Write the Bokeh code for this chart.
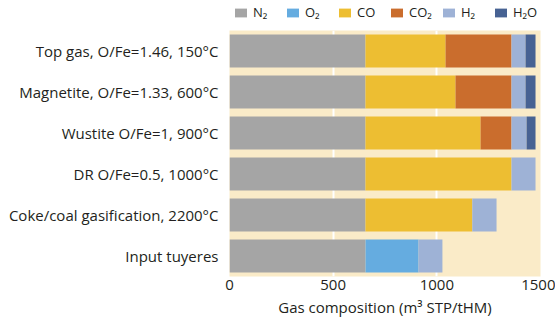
from bokeh.plotting import figure
from bokeh.layouts import column
from bokeh.models import ColumnDataSource, Legend, LegendItem, FixedTicker, Range1d, FactorRange
from bokeh.embed import file_html
from bokeh.resources import INLINE

cases = ["Top gas, O/Fe=1.46, 150°C", "Magnetite, O/Fe=1.33, 600°C", "Wustite O/Fe=1, 900°C",
         "DR O/Fe=0.5, 1000°C", "Coke/coal gasification, 2200°C", "Input tuyeres"]
N2 = [656, 656, 656, 656, 656, 656]
O2 = [0, 0, 0, 0, 0, 256]
CO = [386, 434, 555, 704, 515, 0]
CO2 = [318, 270, 149, 0, 0, 0]
H2 = [68, 68, 73, 116, 117, 115]
H2O = [48, 48, 43, 0, 0, 0]
species = ["N2", "O2", "CO", "CO2", "H2", "H2O"]
labels = ["N₂", "O₂", "CO", "CO₂", "H₂", "H₂O"]
colors = ["#A5A5A5", "#65ACE0", "#EDBE32", "#CA6D2D", "#9EB2D6", "#476293"]
xticks = [0, 500, 1000, 1500]

FONT = "Open Sans"
TXT = "#231F20"

src = ColumnDataSource(dict(case=cases, N2=N2, O2=O2, CO=CO, CO2=CO2, H2=H2, H2O=H2O))

# legend strip (its bars are hidden; only the legend shows)
lf = figure(width=555, height=30, output_backend="svg", toolbar_location=None,
            y_range=FactorRange(factors=list(reversed(cases)), range_padding=0),
            x_range=Range1d(0, 1500),
            min_border_left=229, min_border_right=15, min_border_top=0, min_border_bottom=0)
lf.axis.visible = False
lf.grid.visible = False
lf.outline_line_color = None
lrs = lf.hbar_stack(species, y="case", height=0.8, color=colors, source=src, line_color=None)
for r in lrs:
    r.visible = False
legend = Legend(items=[LegendItem(label=l, renderers=[r]) for l, r in zip(labels, lrs)],
                orientation="horizontal", location=(4, 9),
                glyph_width=15, glyph_height=11, label_standoff=5, label_width=32,
                spacing=0, padding=0, margin=0,
                label_text_font=FONT, label_text_font_size="13px", label_text_color=TXT,
                border_line_color=None, background_fill_alpha=0)
lf.add_layout(legend, "center")

p = figure(width=555, height=297, output_backend="svg", toolbar_location=None,
           y_range=FactorRange(factors=list(reversed(cases)), range_padding=0),
           x_range=Range1d(0, 1500),
           min_border_left=229, min_border_right=15, min_border_top=0, min_border_bottom=51)
p.background_fill_color = "#FAEBC8"
p.border_fill_color = "white"
p.outline_line_color = None

rs = p.hbar_stack(species, y="case", height=0.8, color=colors, source=src, line_color=None)

p.xaxis.ticker = FixedTicker(ticks=xticks)
p.xaxis.axis_label = "Gas composition (m³ STP/tHM)"
for ax in (p.xaxis, p.yaxis):
    ax.axis_line_color = None
    ax.major_tick_line_color = None
    ax.minor_tick_line_color = None
    ax.major_label_text_font = FONT
    ax.major_label_text_font_size = "15px"
    ax.major_label_text_color = TXT
p.xaxis.axis_label_text_font = FONT
p.xaxis.axis_label_text_font_size = "15px"
p.xaxis.axis_label_text_font_style = "normal"
p.xaxis.axis_label_text_color = TXT
p.xaxis.axis_label_standoff = 4
p.xaxis.major_label_standoff = -3
p.yaxis.major_label_standoff = 5

p.xgrid.grid_line_color = "white"
p.xgrid.grid_line_width = 2
p.ygrid.grid_line_color = None

open("out.html", "w").write(file_html(column(lf, p, spacing=0), INLINE))
